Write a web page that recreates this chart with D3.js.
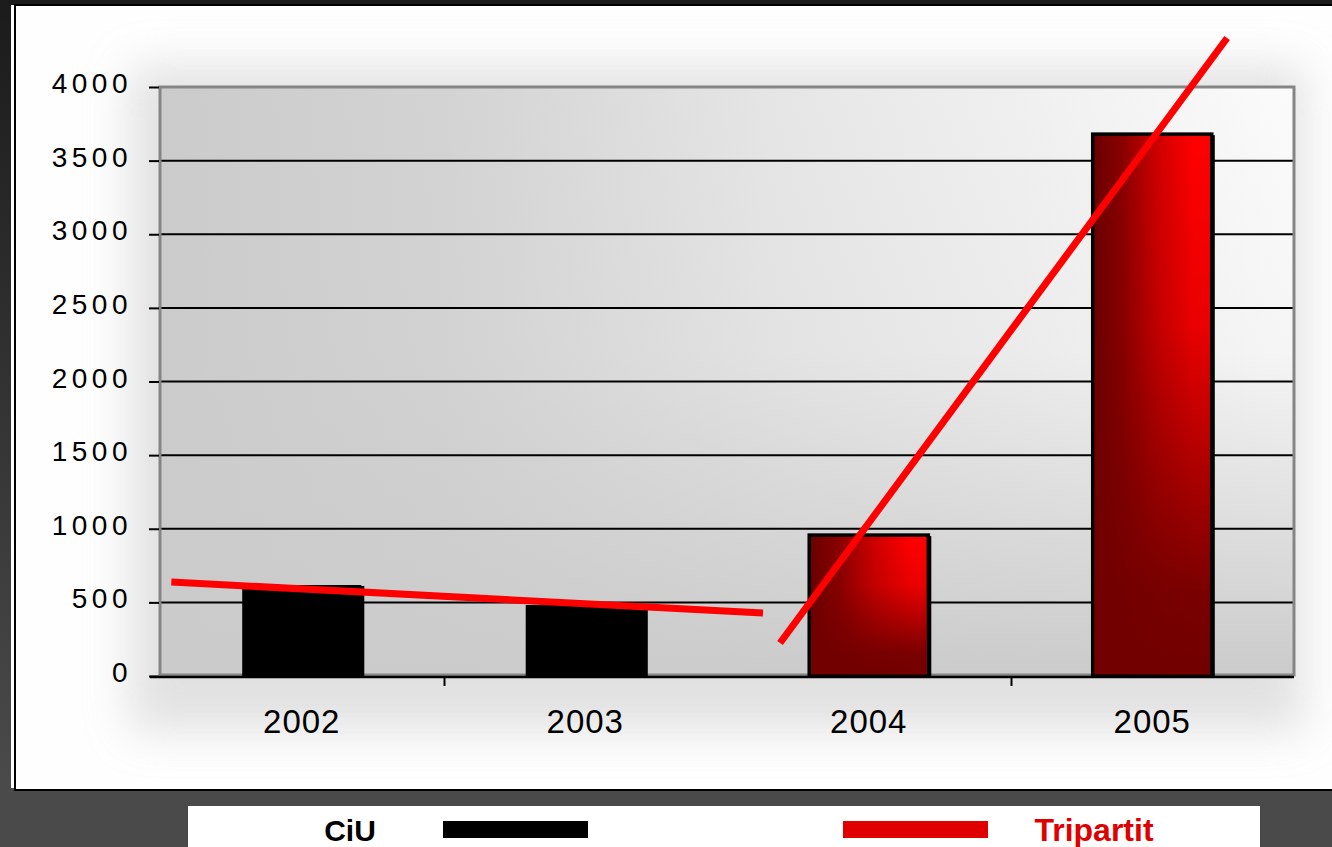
<!DOCTYPE html>
<html><head><meta charset="utf-8">
<script src="https://cdn.jsdelivr.net/npm/d3@7"></script>
<style>html,body{margin:0;padding:0;background:#333;}svg{display:block;}</style>
</head><body>
<svg id="chart" width="1332" height="847"></svg>
<script>
// ---- data ----
const years = ["2002", "2003", "2004", "2005"];
const values = [618, 482, 957, 3680];
const party = ["CiU", "CiU", "Tripartit", "Tripartit"];
const yTicks = [0, 500, 1000, 1500, 2000, 2500, 3000, 3500, 4000];
const xTickBoundaries = [0.5, 2.5];
// trend lines: position in category-index space, value in data units
const ciuTrendIdx = [-0.46, 1.627];
const ciuTrendVal = [638, 428];
const tripTrendIdx = [1.687, 3.264];
const tripTrendVal = [224, 4333];
const legendLabels = ["CiU", "Tripartit"];

// ---- layout ----
const W = 1332, H = 847;
const plot = {x0: 160, x1: 1294, y0: 87, y1: 676};
const svg = d3.select("#chart");
const defs = svg.append("defs");

// page background gradient
const bg = defs.append("linearGradient").attr("id","bg").attr("x1",0).attr("y1",0).attr("x2",0).attr("y2",1);
bg.append("stop").attr("offset","0%").attr("stop-color","#1b1b1b");
bg.append("stop").attr("offset","92%").attr("stop-color","#4a4a4a");
bg.append("stop").attr("offset","100%").attr("stop-color","#4a4a4a");
svg.append("rect").attr("width",W).attr("height",H).attr("fill","url(#bg)");

// panel
svg.append("rect").attr("x",11).attr("y",5).attr("width",3).attr("height",783).attr("fill","#ffffff");
svg.append("rect").attr("x",14).attr("y",4).attr("width",W-14).attr("height",787).attr("fill","#000");
svg.append("rect").attr("x",16).attr("y",6).attr("width",W-16).attr("height",783).attr("fill","#fefefe");

// soft shadow behind plot
const blur = defs.append("filter").attr("id","blur").attr("x","-20%").attr("y","-20%").attr("width","140%").attr("height","140%");
blur.append("feGaussianBlur").attr("stdDeviation",22);
svg.append("rect").attr("x",plot.x0-30).attr("y",plot.y0-20).attr("width",plot.x1-plot.x0+40).attr("height",plot.y1-plot.y0+75)
  .attr("fill","#d8d8d8").attr("opacity",0.75).attr("filter","url(#blur)");

// plot background gradients
const pg = defs.append("linearGradient").attr("id","pgH").attr("x1",0).attr("y1",0).attr("x2",1).attr("y2",0);
[["0%","#cbcbcb"],["25%","#d3d3d3"],["55%","#e6e6e6"],["100%","#fbfbfb"]].forEach(s=>pg.append("stop").attr("offset",s[0]).attr("stop-color",s[1]));
const pv = defs.append("linearGradient").attr("id","pgV").attr("x1",0).attr("y1",0).attr("x2",0).attr("y2",1);
[["0%",0],["45%",0.12],["100%",1]].forEach(s=>pv.append("stop").attr("offset",s[0]).attr("stop-color","#cbcbcb").attr("stop-opacity",s[1]));
svg.append("rect").attr("x",plot.x0).attr("y",plot.y0).attr("width",plot.x1-plot.x0).attr("height",plot.y1-plot.y0).attr("fill","url(#pgH)");
svg.append("rect").attr("x",plot.x0).attr("y",plot.y0).attr("width",plot.x1-plot.x0).attr("height",plot.y1-plot.y0).attr("fill","url(#pgV)");

// scales
const y = d3.scaleLinear().domain([0,4000]).range([plot.y1, plot.y0]);
const xb = d3.scaleBand().domain(years).range([plot.x0, plot.x1]).paddingInner(0.58).paddingOuter(0.29);
const step = (plot.x1-plot.x0)/years.length;
const xi = d3.scaleLinear().domain([0,1]).range([plot.x0+step/2, plot.x0+step*1.5]);

// gridlines (not at the top edge, which is the gray border)
svg.append("g").selectAll("line").data(yTicks.filter(d=>d>0 && d<4000)).join("line")
  .attr("x1",plot.x0).attr("x2",plot.x1).attr("y1",d=>y(d)).attr("y2",d=>y(d))
  .attr("stroke","#000").attr("stroke-width",2);

// plot border (gray)
svg.append("rect").attr("x",plot.x0).attr("y",plot.y0).attr("width",plot.x1-plot.x0).attr("height",plot.y1-plot.y0-1)
  .attr("fill","none").attr("stroke","#858585").attr("stroke-width",3);

// y axis
const yAxis = svg.append("g").attr("transform",`translate(${plot.x0-1},0)`)
  .call(d3.axisLeft(y).tickValues(yTicks).tickSize(10).tickPadding(17).tickFormat(d3.format("d")));
yAxis.select(".domain").remove();
yAxis.selectAll(".tick line").attr("stroke","#000").attr("stroke-width",2);
yAxis.selectAll(".tick text").attr("fill","#000").attr("dy","0.2em")
  .style("font-family","'Liberation Sans', Arial, sans-serif").style("font-size","28px").style("letter-spacing","4.5px");

// gradients for red bars
const rg = defs.append("linearGradient").attr("id","redH").attr("x1",0).attr("y1",0).attr("x2",1).attr("y2",0);
[["0%","#680000"],["25%","#8a0000"],["55%","#d00000"],["85%","#ff0000"],["100%","#ff0000"]].forEach(s=>rg.append("stop").attr("offset",s[0]).attr("stop-color",s[1]));
const rv = defs.append("linearGradient").attr("id","redV").attr("x1",0).attr("y1",0).attr("x2",0).attr("y2",1);
[["0%",0],["35%",0.15],["85%",0.95],["100%",1]].forEach(s=>rv.append("stop").attr("offset",s[0]).attr("stop-color","#720000").attr("stop-opacity",s[1]));

// bars
const bars = svg.append("g");
const data = years.map((yr,i)=>({year:yr, value:values[i], party:party[i]}));
bars.selectAll("rect.sh").data(data).join("rect").attr("class","sh")
  .attr("x",d=>xb(d.year)+3).attr("y",d=>y(d.value)+1).attr("width",xb.bandwidth()).attr("height",d=>y(0)-y(d.value)-1)
  .attr("fill","#000");
bars.selectAll("rect.b").data(data).join("rect").attr("class","b")
  .attr("x",d=>xb(d.year)).attr("y",d=>y(d.value)).attr("width",xb.bandwidth()).attr("height",d=>y(0)-y(d.value))
  .attr("fill",d=>d.party==="CiU"?"#000":"url(#redH)")
  .attr("stroke","#000").attr("stroke-width",d=>d.party==="CiU"?0:3.5);
bars.selectAll("rect.ov").data(data.filter(d=>d.party!=="CiU")).join("rect").attr("class","ov")
  .attr("x",d=>xb(d.year)+1.75).attr("y",d=>y(d.value)+1.75).attr("width",xb.bandwidth()-3.5).attr("height",d=>y(0)-y(d.value)-3.5)
  .attr("fill","url(#redV)");

// x axis
svg.append("line").attr("x1",150).attr("x2",plot.x1).attr("y1",plot.y1+1).attr("y2",plot.y1+1).attr("stroke","#000").attr("stroke-width",2.5);
svg.append("g").selectAll("line").data(xTickBoundaries).join("line")
  .attr("x1",d=>xi(d)+1).attr("x2",d=>xi(d)+1).attr("y1",plot.y1).attr("y2",plot.y1+10).attr("stroke","#000").attr("stroke-width",2);
const xAxis = svg.append("g").attr("transform",`translate(0,${plot.y1})`)
  .call(d3.axisBottom(xb).tickSize(0).tickPadding(34));
xAxis.select(".domain").remove();
xAxis.selectAll(".tick text").attr("fill","#000")
  .style("font-family","'Liberation Sans', Arial, sans-serif").style("font-size","33px").style("letter-spacing","1px");

// trend lines
const line = d3.line().x(d=>xi(d[0])).y(d=>y(d[1]));
svg.append("path").datum(ciuTrendIdx.map((v,i)=>[v,ciuTrendVal[i]])).attr("d",line)
  .attr("stroke","#ff0000").attr("stroke-width",7).attr("fill","none");
svg.append("path").datum(tripTrendIdx.map((v,i)=>[v,tripTrendVal[i]])).attr("d",line)
  .attr("stroke","#ff0000").attr("stroke-width",7).attr("fill","none");

// legend
const lg = svg.append("g");
lg.append("rect").attr("x",188).attr("y",806).attr("width",1072).attr("height",41).attr("fill","#fff");
lg.append("text").attr("x",350).attr("y",841).attr("text-anchor","middle").text(legendLabels[0])
  .style("font-family","'Liberation Sans', Arial, sans-serif").style("font-weight","bold").style("font-size","30px").attr("fill","#000");
lg.append("rect").attr("x",443).attr("y",821).attr("width",145).attr("height",17).attr("fill","#000");
lg.append("rect").attr("x",843).attr("y",821).attr("width",145).attr("height",17).attr("fill","#e00000");
lg.append("text").attr("x",1094).attr("y",841).attr("text-anchor","middle").text(legendLabels[1])
  .style("font-family","'Liberation Sans', Arial, sans-serif").style("font-weight","bold").style("font-size","32px").attr("fill","#e00000");
</script>
</body></html>
